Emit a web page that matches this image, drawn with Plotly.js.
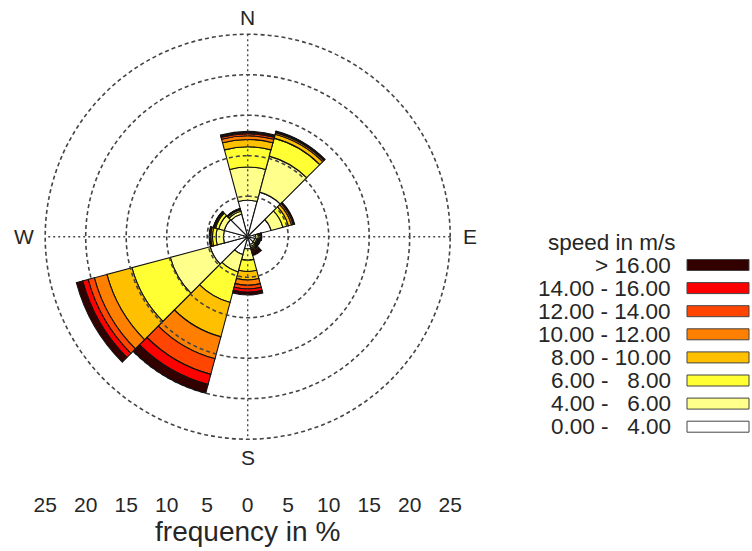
<!DOCTYPE html>
<html>
<head>
<meta charset="utf-8">
<script src="https://cdn.plot.ly/plotly-3.0.1.min.js"></script>
<style>html,body{margin:0;padding:0;background:#fff}#chart{width:752px;height:551px}</style>
</head>
<body>
<div id="chart"></div>
<script>
// ---- data -------------------------------------------------------------
const directions = [0, 30, 60, 90, 120, 150, 180, 210, 240, 270, 300, 330];
const compassVals = [0, 90, 180, 270];
const compassText = ['N', 'E', 'S', 'W'];

const speedClasses = ['0.00 -\u00A0\u00A0\u00A04.00', '4.00 -\u00A0\u00A0\u00A06.00', '6.00 -\u00A0\u00A0\u00A08.00',
  '8.00 - 10.00', '10.00 - 12.00', '12.00 - 14.00', '14.00 - 16.00', '> 16.00'];
const speedColors = ['#FFFFFF', '#FFFF8C', '#FFFF33', '#FFC000', '#FF8000', '#FF4500', '#FF0000', '#330000'];

// frequency (%) per speed class, one value per direction sector
const freq_0_4   = [4.5, 5.7, 3.0, 1.0, 0.9, 1.0, 1.5, 2.3, 4.8, 3.0, 3.0, 2.9];
const freq_4_6   = [4.1, 4.6, 1.5, 0.3, 0.25, 0.25, 1.4, 2.2, 5.1, 0.9, 0.7, 0.35];
const freq_6_8   = [2.5, 2.3, 0.7, 0.15, 0.15, 0.2, 1.4, 3.9, 4.9, 0.45, 0.4, 0.2];
const freq_8_10  = [0.9, 0.5, 0.4, 0.1, 0.1, 0.15, 1.05, 4.4, 3.2, 0.2, 0.15, 0.07];
const freq_10_12 = [0.45, 0.2, 0.2, 0.05, 0.05, 0.15, 0.65, 2.8, 1.6, 0.1, 0.07, 0.04];
const freq_12_14 = [0.25, 0.1, 0.1, 0.05, 0.05, 0.15, 0.45, 2.0, 0.8, 0.05, 0.04, 0.02];
const freq_14_16 = [0.15, 0.05, 0.05, 0.05, 0.05, 0.15, 0.4, 1.3, 0.7, 0.03, 0.02, 0.01];
const freq_16up  = [0.15, 0.05, 0.05, 0.05, 0.1, 0.35, 0.35, 1.1, 0.8, 0.02, 0.02, 0.01];

const innerRings = [5, 10, 15];   // drawn over the bars
const outerRings = [20, 25];      // drawn as axis grid
const freqTicks = [-25, -20, -15, -10, -5, 0, 5, 10, 15, 20, 25];
const freqTickText = ['25', '20', '15', '10', '5', '0', '5', '10', '15', '20', '25'];

// ---- figure -----------------------------------------------------------
const series = [freq_0_4, freq_4_6, freq_6_8, freq_8_10, freq_10_12, freq_12_14, freq_14_16, freq_16up];
const FONT = 'Liberation Sans, Arial, Helvetica, sans-serif';
const TXT = '#262626';
const GRID = '#444';
const rMax = outerRings[outerRings.length - 1];
const PAD = 1.008;                 // small headroom so the outer ring is drawn
const rTop = rMax * PAD;

const data = series.map((vals, i) => ({
  type: 'barpolar',
  r: vals,
  theta: directions,
  name: speedClasses[i],
  marker: { color: speedColors[i], line: { color: '#111', width: 1.1 } },
  showlegend: false,
  hoverinfo: 'skip'
}));

const ringTheta = [];
for (let a = 0; a <= 360; a += 1) ringTheta.push(a);
innerRings.forEach(rv => {
  data.push({
    type: 'scatterpolar', mode: 'lines',
    r: ringTheta.map(() => rv), theta: ringTheta,
    line: { color: GRID, width: 1.6, dash: '4px,3px' },
    showlegend: false, hoverinfo: 'skip'
  });
});

// compass cross drawn over the bars
const crossR = [], crossT = [];
for (let k = 0; k < 2; k++) {
  crossR.push(rMax, 0, rMax, null);
  crossT.push(compassVals[k], compassVals[k], compassVals[k + 2], null);
}
data.push({
  type: 'scatterpolar', mode: 'lines', r: crossR, theta: crossT, cliponaxis: false,
  line: { color: '#4a4a4a', width: 1.4, dash: '2px,3px' },
  showlegend: false, hoverinfo: 'skip'
});

// invisible carrier for the frequency scale below the rose
data.push({
  type: 'scatter', x: [freqTicks[0], freqTicks[freqTicks.length - 1]], y: [0, 0],
  mode: 'markers', marker: { opacity: 0 }, showlegend: false, hoverinfo: 'skip'
});

const W = 752, H = 551;
const CX = 247.7, CY = 236.7, R25 = 202.5;   // rose centre and 25 % radius in px
const Rdom = R25 * PAD;
const domX = [(CX - Rdom) / W, (CX + Rdom) / W];
const domY = [1 - (CY + Rdom) / H, 1 - (CY - Rdom) / H];

// compass letters
const compassOffset = [[0, -(R25 + 17)], [R25 + 20, 0], [0, R25 + 18], [-(R25 + 21), 0]];
const annotations = compassText.map((t, i) => ({
  text: t, xref: 'paper', yref: 'paper',
  x: (CX + compassOffset[i][0]) / W, y: 1 - (CY + compassOffset[i][1]) / H,
  xanchor: 'center', yanchor: 'middle', showarrow: false,
  font: { family: FONT, size: 21, color: TXT }
}));

// custom legend (text left, swatch right)
const LEG = 22.5;
annotations.push({
  text: 'speed in m/s', xref: 'paper', yref: 'paper', x: 612 / W, y: 1 - 242 / H,
  xanchor: 'center', yanchor: 'middle', showarrow: false, font: { family: FONT, size: LEG, color: TXT }
});
const shapes = [];
const order = speedClasses.map((_, i) => speedClasses.length - 1 - i);
order.forEach((ci, row) => {
  const yc = 265 + row * 23.1;
  annotations.push({
    text: speedClasses[ci], xref: 'paper', yref: 'paper', x: 673 / W, y: 1 - yc / H,
    xanchor: 'right', yanchor: 'middle', showarrow: false, font: { family: FONT, size: LEG, color: TXT }
  });
  shapes.push({
    type: 'rect', xref: 'paper', yref: 'paper',
    x0: 687 / W, x1: 749 / W, y0: 1 - (yc + 5.5) / H, y1: 1 - (yc - 5.5) / H,
    fillcolor: speedColors[ci], line: { color: '#444', width: 1 }
  });
});

const layout = {
  width: W, height: H,
  margin: { l: 0, r: 0, t: 0, b: 0 },
  paper_bgcolor: '#fff', plot_bgcolor: 'rgba(0,0,0,0)',
  font: { family: FONT, color: TXT },
  showlegend: false,
  polar: {
    domain: { x: domX, y: domY },
    bgcolor: 'rgba(0,0,0,0)',
    barmode: 'stack',
    bargap: 0,
    radialaxis: {
      range: [0, rTop], tickmode: 'array', tickvals: outerRings,
      showgrid: true, gridcolor: GRID, gridwidth: 1.6, griddash: '4px,3px',
      showline: false, showticklabels: false, ticks: ''
    },
    angularaxis: {
      direction: 'clockwise', rotation: 90,
      tickmode: 'array', tickvals: compassVals,
      showgrid: false, showline: false, showticklabels: false, ticks: ''
    }
  },
  xaxis: {
    domain: domX, range: [-rTop, rTop],
    tickmode: 'array', tickvals: freqTicks, ticktext: freqTickText,
    showgrid: false, zeroline: false, showline: false, ticks: '',
    anchor: 'free', position: 1 - 490 / H,
    tickfont: { family: FONT, size: 21, color: TXT },
    title: { text: 'frequency in %', font: { family: FONT, size: 28, color: TXT }, standoff: 2 },
    fixedrange: true
  },
  yaxis: { domain: [1 - 490 / H, 1 - 486 / H], range: [-1, 1], visible: false, fixedrange: true },
  annotations: annotations,
  shapes: shapes
};

Plotly.newPlot('chart', data, layout, { staticPlot: true, displayModeBar: false });
</script>
</body>
</html>
